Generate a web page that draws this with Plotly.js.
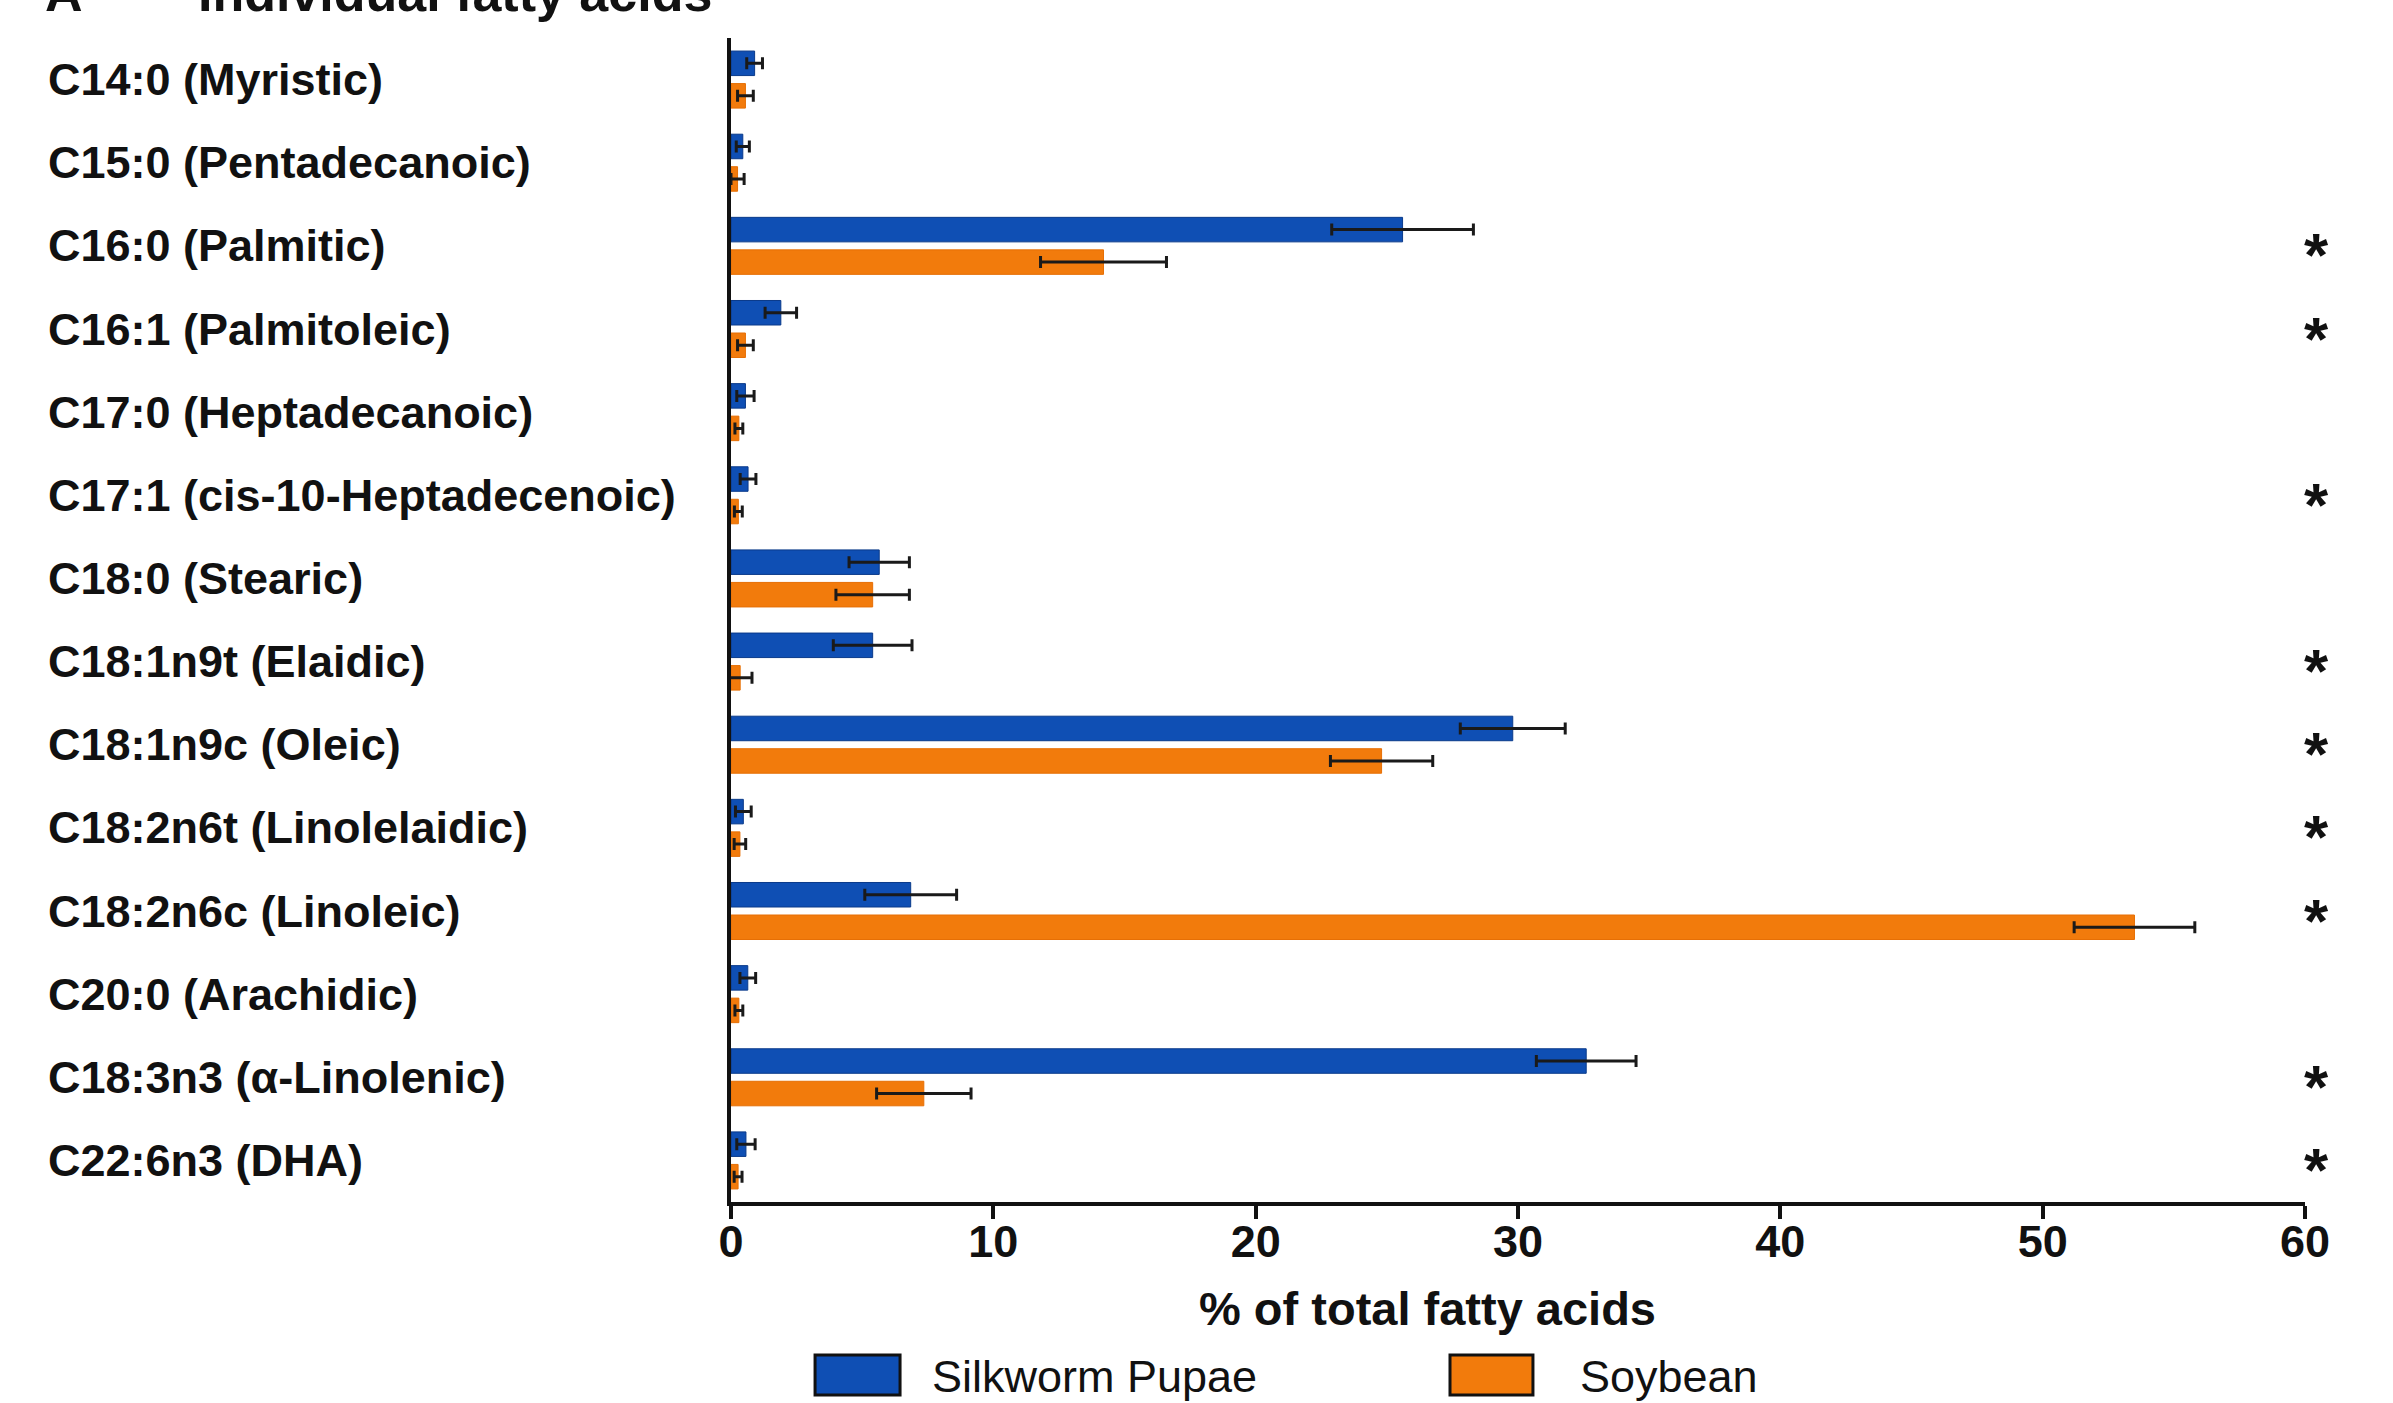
<!DOCTYPE html>
<html>
<head>
<meta charset="utf-8">
<script src="https://cdn.plot.ly/plotly-3.0.1.min.js"></script>
<style>html,body{margin:0;padding:0;background:#fff;}#chart{width:2393px;height:1403px;}</style>
</head>
<body>
<div id="chart"></div>
<script>
const categories = [
  "C14:0 (Myristic)", "C15:0 (Pentadecanoic)", "C16:0 (Palmitic)", "C16:1 (Palmitoleic)",
  "C17:0 (Heptadecanoic)", "C17:1 (cis-10-Heptadecenoic)", "C18:0 (Stearic)", "C18:1n9t (Elaidic)",
  "C18:1n9c (Oleic)", "C18:2n6t (Linolelaidic)", "C18:2n6c (Linoleic)", "C20:0 (Arachidic)",
  "C18:3n3 (α-Linolenic)", "C22:6n3 (DHA)"
];
const silkworm   = [0.9, 0.45, 25.6, 1.9, 0.55, 0.65, 5.65, 5.4, 29.8, 0.47, 6.85, 0.64, 32.6, 0.57];
const silkwormSD = [0.3, 0.25, 2.7, 0.6, 0.33, 0.3, 1.15, 1.5, 2.0, 0.3, 1.75, 0.3, 1.9, 0.35];
const soybean    = [0.55, 0.25, 14.2, 0.55, 0.3, 0.28, 5.4, 0.35, 24.8, 0.34, 53.5, 0.3, 7.35, 0.27];
const soybeanSD  = [0.3, 0.25, 2.4, 0.3, 0.15, 0.15, 1.4, 0.45, 1.95, 0.22, 2.3, 0.15, 1.8, 0.15];
const significant = [false, false, true, true, false, true, false, true, true, true, true, false, true, true];
const seriesNames = ["Silkworm Pupae", "Soybean"];
const xTicks = [0, 10, 20, 30, 40, 50, 60];
const xTitle = "% of total fatty acids";
const panelLabel = "A";
const panelTitle = "Individual fatty acids";

const FONT = '"Liberation Sans", Arial, Helvetica, sans-serif';
const BLUE = '#0f4fb4', BLUE_EDGE = '#0a3a8a';
const ORANGE = '#f27b0c', ORANGE_EDGE = '#e66f05';

const errStyle = {type: 'data', symmetric: true, color: '#1a1a1a', thickness: 3, width: 6};

const traces = [
  {type: 'bar', orientation: 'h', name: seriesNames[0], y: categories, x: silkworm,
   marker: {color: BLUE, line: {color: BLUE_EDGE, width: 1}},
   error_x: Object.assign({array: silkwormSD}, errStyle), showlegend: false, hoverinfo: 'x+y'},
  {type: 'bar', orientation: 'h', name: seriesNames[1], y: categories, x: soybean,
   marker: {color: ORANGE, line: {color: ORANGE_EDGE, width: 1}},
   error_x: Object.assign({array: soybeanSD}, errStyle), showlegend: false, hoverinfo: 'x+y'}
];

const annotations = [];
categories.forEach((c, i) => {
  annotations.push({xref: 'paper', yref: 'y', x: -0.4352, y: c, xanchor: 'left', yanchor: 'middle',
    text: c, showarrow: false, font: {family: FONT, size: 45, color: '#111', weight: 'bold'}});
  if (significant[i]) {
    annotations.push({xref: 'paper', yref: 'y', x: 1.0076, y: c, xanchor: 'center', yanchor: 'middle',
      yshift: -9, text: '*', showarrow: false, font: {family: FONT, size: 62, color: '#111', weight: 'bold'}});
  }
});
// partially visible panel heading at the very top (cut off in the original figure)
annotations.push({xref: 'paper', yref: 'paper', x: -0.4371, y: 1.012, xanchor: 'left', yanchor: 'bottom',
  text: panelLabel, showarrow: false, font: {family: FONT, size: 52, color: '#111', weight: 'bold'}});
annotations.push({xref: 'paper', yref: 'paper', x: -0.3399, y: 1.012, xanchor: 'left', yanchor: 'bottom',
  text: panelTitle, showarrow: false, font: {family: FONT, size: 52, color: '#111', weight: 'bold'}});
// x-axis title (offset left of the plot centre, as in the original)
annotations.push({xref: 'paper', yref: 'paper', x: 0.4422, y: -0.0911, xanchor: 'center', yanchor: 'middle',
  text: xTitle, showarrow: false, font: {family: FONT, size: 47, color: '#111', weight: 'bold'}});
// legend text
annotations.push({xref: 'paper', yref: 'paper', x: 0.1264, y: -0.1503, xanchor: 'left', yanchor: 'middle',
  text: seriesNames[0], showarrow: false, font: {family: FONT, size: 45, color: '#111'}});
annotations.push({xref: 'paper', yref: 'paper', x: 0.5381, y: -0.1503, xanchor: 'left', yanchor: 'middle',
  text: seriesNames[1], showarrow: false, font: {family: FONT, size: 45, color: '#111'}});

const shapes = [
  {type: 'rect', xref: 'paper', yref: 'paper', x0: 0.0534, x1: 0.1074, y0: -0.1658, y1: -0.1314,
   fillcolor: BLUE, line: {color: '#111', width: 3}},
  {type: 'rect', xref: 'paper', yref: 'paper', x0: 0.4568, x1: 0.5095, y0: -0.1658, y1: -0.1314,
   fillcolor: ORANGE, line: {color: '#111', width: 3}}
];

const layout = {
  width: 2393, height: 1403,
  margin: {l: 731, r: 88, t: 38, b: 201, pad: 0},
  paper_bgcolor: '#ffffff', plot_bgcolor: '#ffffff',
  barmode: 'group', bargap: 0.218, bargroupgap: 0.246,
  showlegend: false,
  font: {family: FONT, color: '#111'},
  xaxis: {
    range: [0, 60], tickmode: 'array', tickvals: xTicks, ticktext: xTicks.map(String),
    ticks: 'outside', ticklen: 13, tickwidth: 4, tickcolor: '#111', ticklabelstandoff: -16,
    showline: true, linewidth: 4, linecolor: '#111', showgrid: false, zeroline: false,
    tickfont: {family: FONT, size: 45, color: '#111', weight: 'bold'},
    automargin: false, fixedrange: true
  },
  yaxis: {
    type: 'category', range: [13.5, -0.5], showticklabels: false, ticks: '',
    showline: true, linewidth: 4, linecolor: '#111', showgrid: false, zeroline: false,
    automargin: false, fixedrange: true
  },
  annotations: annotations,
  shapes: shapes
};

Plotly.newPlot('chart', traces, layout, {staticPlot: true, displayModeBar: false});
</script>
</body>
</html>
